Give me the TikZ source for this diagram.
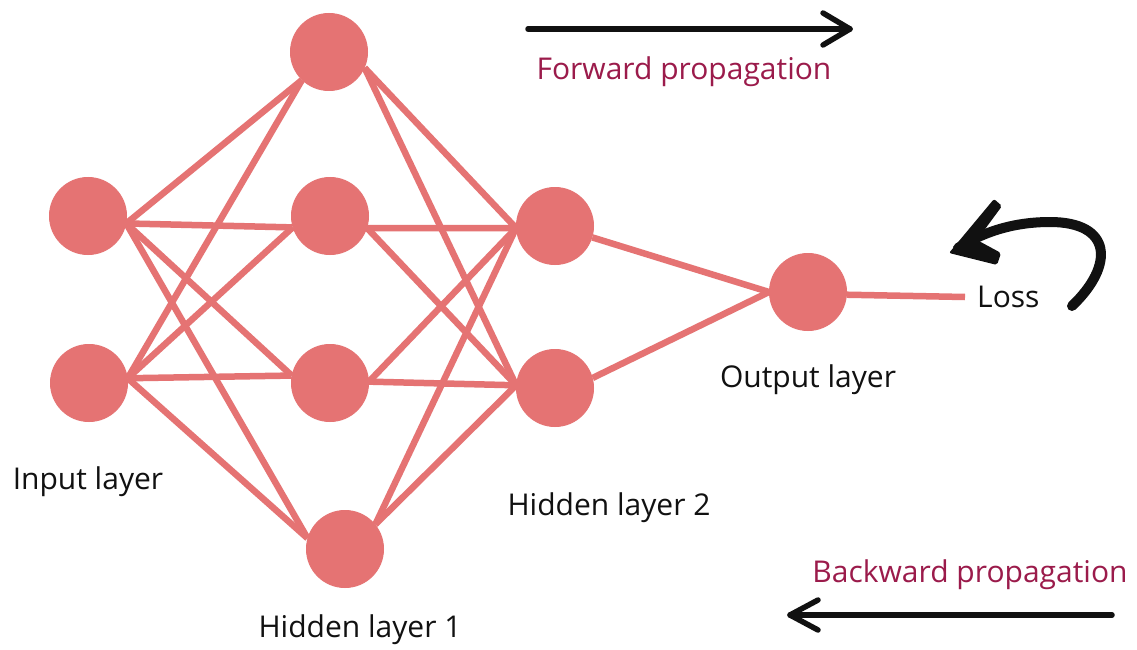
\documentclass[tikz,border=0pt]{standalone}
\usepackage{fontspec}
\setmainfont{Open Sans}
\usetikzlibrary{backgrounds}
\definecolor{neuron}{HTML}{E57373}
\definecolor{maroon}{HTML}{9B1B4B}
\definecolor{ink}{HTML}{111111}
\tikzset{
  neuronnode/.style={circle, fill=neuron, draw=neuron, line width=1pt, minimum size=77pt, inner sep=0pt},
  synapse/.style={draw=neuron, line width=6.5pt},
  labeltext/.style={text=ink, font=\fontsize{30}{34}\selectfont, inner sep=0pt, anchor=center},
  proptext/.style={text=maroon, font=\fontsize{30}{34}\selectfont, inner sep=0pt, anchor=center},
  arrowline/.style={draw=ink, line width=5.5pt, line cap=round, line join=round},
}
\begin{document}
\begin{tikzpicture}[x=1pt, y=-1pt]
\useasboundingbox (0,0) rectangle (1137,650);
% neurons
\node[neuronnode] (i1) at (88,216) {};
\node[neuronnode] (i2) at (89,383) {};
\node[neuronnode] (h11) at (329,52) {};
\node[neuronnode] (h12) at (330,216) {};
\node[neuronnode] (h13) at (330,383) {};
\node[neuronnode] (h14) at (345,549) {};
\node[neuronnode] (h21) at (555,226) {};
\node[neuronnode] (h22) at (555,388) {};
\node[neuronnode] (o) at (808,292) {};
\node[text=ink, font=\fontsize{30}{34}\selectfont, inner sep=0pt, anchor=west] (loss) at (977,297) {Loss};
% labels
\node[labeltext] (linput) at (88,482) {Input layer};
\node[labeltext] (lh1) at (360,630) {Hidden layer 1};
\node[labeltext] (lh2) at (609,508) {Hidden layer 2};
\node[labeltext] (lout) at (808,380) {Output layer};
\node[proptext] (lfwd) at (684,72) {Forward propagation};
\node[proptext] (lbwd) at (970,575) {Backward propagation};
% connections
\begin{scope}[on background layer]
  \fill[white] (0,0) rectangle (1137,650);
  \foreach \h/\a in {h11/226, h12/197, h13/169, h14/164} {
    \draw[synapse] (i1.-11) -- (\h.\a);
    \draw[synapse] (i2.7) -- (\h.\a);
  }
  \foreach \h/\a in {h11/-24, h12/-18, h13/2, h14/39} {
    \draw[synapse] (\h.\a) -- (h21.183);
    \draw[synapse] (\h.\a) -- (h22.176);
  }
  \draw[synapse] (h21.-17) -- (o.180);
  \draw[synapse] (h22.15) -- (o.180);
  \draw[synapse] (o.-4) -- ([xshift=-12pt]loss.west);
\end{scope}
% propagation arrows
\coordinate (fa) at (528,29);
\coordinate (fb) at (850,29);
\draw[arrowline] (fa) -- (fb);
\draw[arrowline] ([shift={(-27,-16)}]fb) -- (fb) -- ([shift={(-27,16)}]fb);
\coordinate (ba) at (1112,615);
\coordinate (bb) at (790,615);
\draw[arrowline] (ba) -- (bb);
\draw[arrowline] ([shift={(28,-15)}]bb) -- (bb) -- ([shift={(28,15)}]bb);
% loss curved arrow
\coordinate (ca) at (1072,306);
\coordinate (cb) at (958,248);
\draw[draw=ink, line width=10pt, line cap=round] (ca) .. controls (1115,265) and (1112,222) .. (1050,222) .. controls (1010,222) and (980,234) .. (cb);
\fill[ink, rounded corners=2pt] (994,199) -- (1002,206) -- (977,240) -- (1001,253) -- (997,265) -- (949,253) -- cycle;
\end{tikzpicture}
\end{document}
